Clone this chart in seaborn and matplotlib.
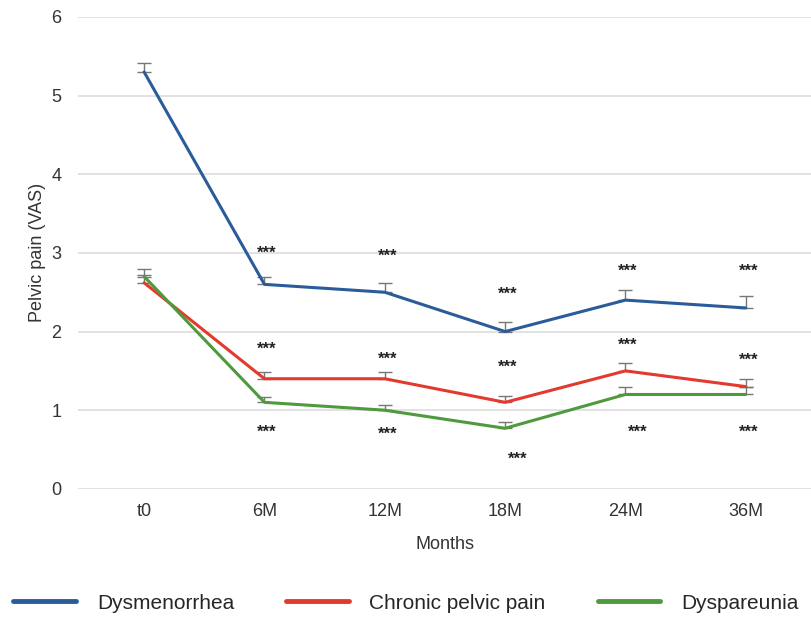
import matplotlib
matplotlib.use("Agg")
import matplotlib.pyplot as plt
import seaborn as sns
import pandas as pd
import numpy as np
from matplotlib.lines import Line2D

months = ["t0", "6M", "12M", "18M", "24M", "36M"]
series_names = ["Dysmenorrhea", "Chronic pelvic pain", "Dyspareunia"]
dysmenorrhea = [5.3, 2.6, 2.5, 2.0, 2.4, 2.3]
chronic = [2.62, 1.4, 1.4, 1.1, 1.5, 1.3]
dyspareunia = [2.7, 1.1, 1.0, 0.77, 1.2, 1.2]
err_dys = [0.12, 0.1, 0.12, 0.12, 0.13, 0.15]
err_chr = [0.1, 0.08, 0.08, 0.08, 0.1, 0.1]
err_dsp = [0.1, 0.07, 0.07, 0.08, 0.1, 0.1]
# significance marker heights per series (y in VAS units)
star_dys = [None, 3.0, 2.96, 2.48, 2.77, 2.77]
star_chr = [None, 1.77, 1.65, 1.54, 1.82, 1.64]
star_dsp = [None, 0.72, 0.69, 0.37, 0.72, 0.72]

colors = ["#2b5c9a", "#e23a2e", "#4f9a3c"]

sns.set_theme(style="white")
plt.rcParams["font.family"] = ["Liberation Sans", "DejaVu Sans"]

fig = plt.figure(figsize=(8.12, 6.18), dpi=100)
ax = fig.add_axes([0.096, 0.209, 0.904, 0.7635])

rows = []
for name, vals in zip(series_names, [dysmenorrhea, chronic, dyspareunia]):
    for i, v in enumerate(vals):
        rows.append({"Months": i, "Series": name, "Value": v})
df = pd.DataFrame(rows)

sns.lineplot(data=df, x="Months", y="Value", hue="Series", palette=colors,
             hue_order=series_names, linewidth=2.2, ax=ax, legend=False)

xs = np.arange(len(months))
for vals, errs in zip([dysmenorrhea, chronic, dyspareunia], [err_dys, err_chr, err_dsp]):
    ax.errorbar(xs, vals, yerr=[np.zeros(len(errs)), errs], fmt="none",
                ecolor="#777777", elinewidth=1.0, capsize=5, capthick=1.0, zorder=1)

for stars in [star_dys, star_chr, star_dsp]:
    for i, s in enumerate(stars):
        if s is not None:
            dx = 0.1 if (stars is star_dsp and i in (3, 4)) else 0.02
            ax.text(xs[i] + dx, s, "***", ha="center", va="center", fontsize=12,
                    color="#222222", fontweight="bold")

ax.set_xlim(-0.55, 5.55)
ax.set_ylim(0, 6)
ax.set_xticks(xs)
ax.set_xticklabels(months)
ax.set_yticks(range(0, 7))
ax.yaxis.grid(True, color="#dddddd", linewidth=1.2)
ax.set_axisbelow(True)
for sp in ax.spines.values():
    sp.set_visible(False)
ax.tick_params(axis="both", length=0, labelsize=13, colors="#333333")
ax.tick_params(axis="y", pad=12)
ax.tick_params(axis="x", pad=10)
ax.set_xlabel("Months", fontsize=13, color="#333333", labelpad=12)
ax.set_ylabel("Pelvic pain (VAS)", fontsize=13, color="#333333", labelpad=4)

handles = [Line2D([0], [0], color=c, lw=3.5) for c in colors]
fig.legend(handles, series_names, loc="center", bbox_to_anchor=(0.5, 0.024), ncol=3,
           frameon=False, fontsize=15, handlelength=3.0, columnspacing=2.5, handletextpad=1.0)

fig.savefig("out.png", dpi=100)
